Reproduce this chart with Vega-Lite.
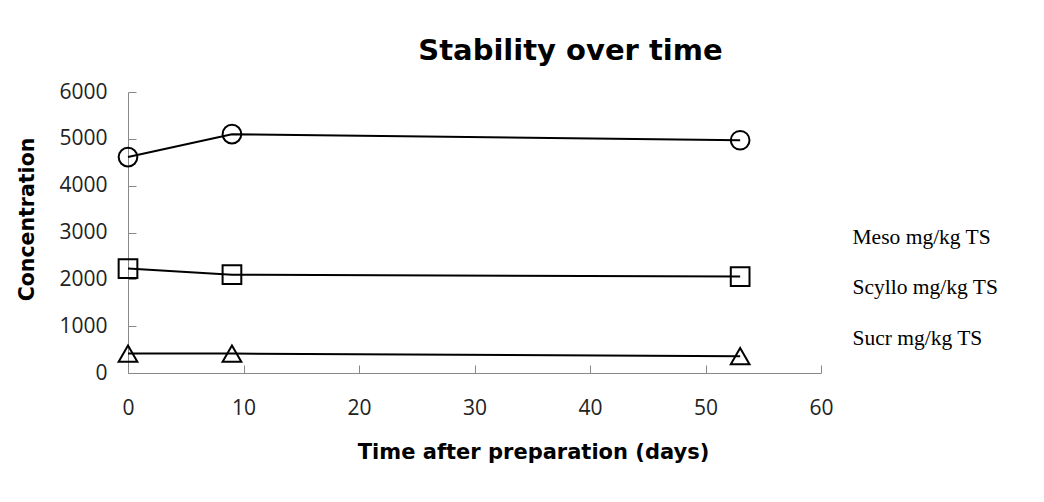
{
  "$schema": "https://vega.github.io/schema/vega-lite/v6.json",
  "width": 693,
  "height": 281,
  "autosize": {"type": "none"},
  "padding": {"left": 128, "top": 92, "right": 223, "bottom": 129},
  "background": "white",
  "title": {
    "text": "Stability over time",
    "font": "DejaVu Sans",
    "fontSize": 29,
    "fontWeight": "bold",
    "color": "black",
    "anchor": "middle",
    "dx": 96,
    "offset": 15
  },
  "data": {
    "values": [
      {"series": "Meso mg/kg TS", "day": 0, "value": 4610},
      {"series": "Meso mg/kg TS", "day": 9, "value": 5100},
      {"series": "Meso mg/kg TS", "day": 53, "value": 4970},
      {"series": "Scyllo mg/kg TS", "day": 0, "value": 2230},
      {"series": "Scyllo mg/kg TS", "day": 9, "value": 2100},
      {"series": "Scyllo mg/kg TS", "day": 53, "value": 2060},
      {"series": "Sucr mg/kg TS", "day": 0, "value": 415},
      {"series": "Sucr mg/kg TS", "day": 9, "value": 415},
      {"series": "Sucr mg/kg TS", "day": 53, "value": 360}
    ]
  },
  "encoding": {
    "x": {
      "field": "day",
      "type": "quantitative",
      "scale": {"domain": [0, 60], "nice": false, "zero": false},
      "axis": {
        "title": "Time after preparation (days)",
        "values": [0, 10, 20, 30, 40, 50, 60],
        "grid": false,
        "domainColor": "#888888",
        "tickColor": "#888888",
        "tickSize": -8,
        "labelPadding": 32,
        "labelFlush": false,
        "labelFont": "Open Sans",
        "labelFontSize": 21,
        "labelColor": "#222222",
        "titleFont": "DejaVu Sans",
        "titleFontSize": 21,
        "titleFontWeight": "bold",
        "titleColor": "black",
        "titleX": 405,
        "titleY": 79,
        "titleBaseline": "middle"
      }
    },
    "y": {
      "field": "value",
      "type": "quantitative",
      "scale": {"domain": [0, 6000], "nice": false},
      "axis": {
        "title": "Concentration",
        "values": [0, 1000, 2000, 3000, 4000, 5000, 6000],
        "format": "d",
        "grid": false,
        "domainColor": "#888888",
        "tickColor": "#888888",
        "tickSize": -8,
        "labelPadding": 29,
        "labelFont": "Open Sans",
        "labelFontSize": 21,
        "labelColor": "#222222",
        "titleFont": "DejaVu Sans",
        "titleFontSize": 20.5,
        "titleFontWeight": "bold",
        "titleColor": "black",
        "titleAngle": 270,
        "titleX": -101,
        "titleY": 127,
        "titleBaseline": "middle",
        "titleAlign": "center"
      }
    }
  },
  "layer": [
    {
      "mark": {"type": "line", "color": "black", "strokeWidth": 2},
      "encoding": {"detail": {"field": "series", "type": "nominal"}}
    },
    {
      "mark": {"type": "point", "filled": false, "stroke": "black", "strokeWidth": 2, "size": 350, "opacity": 1},
      "encoding": {
        "shape": {
          "field": "series",
          "type": "nominal",
          "scale": {"domain": ["Meso mg/kg TS", "Scyllo mg/kg TS", "Sucr mg/kg TS"], "range": ["circle", "square", "triangle-up"]},
          "legend": {
            "title": null,
            "orient": "none",
            "legendX": 703,
            "legendY": 135,
            "symbolOpacity": 0,
            "symbolSize": 0,
            "symbolStrokeWidth": 0,
            "labelOffset": 0,
            "labelFont": "Liberation Serif",
            "labelFontSize": 21.5,
            "labelColor": "black",
            "rowPadding": 27.5
          }
        }
      }
    }
  ],
  "config": {"view": {"stroke": null}}
}
